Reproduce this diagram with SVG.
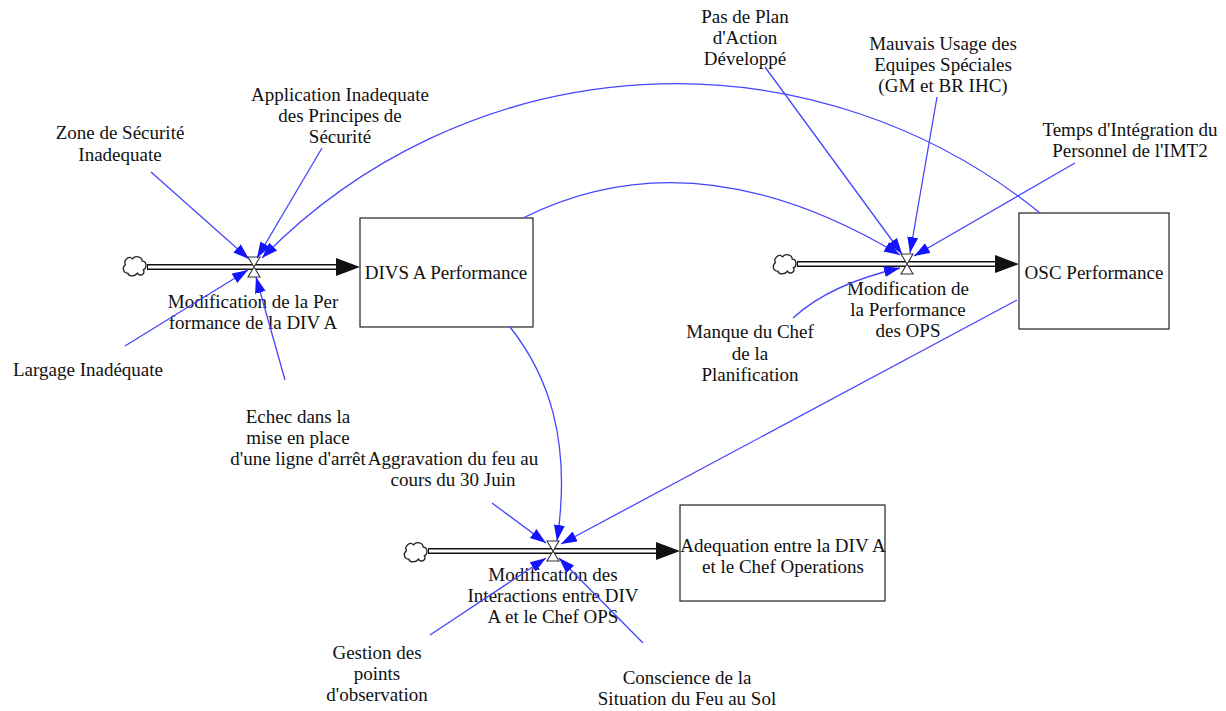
<svg xmlns="http://www.w3.org/2000/svg" width="1226" height="711" viewBox="0 0 1226 711">
<style>
text{font-family:"Liberation Serif","Times New Roman",serif;font-size:19px;fill:#111;text-anchor:middle}
.stock{fill:#fff;stroke:#222;stroke-width:1.2}
.pipeo{stroke:#111;stroke-width:6;fill:none}
.pipei{stroke:#fff;stroke-width:3;fill:none}
.valve{fill:#fff;stroke:#333;stroke-width:1.1}
.cloud{fill:#fff;stroke:#222;stroke-width:1.1}
.link{fill:none;stroke:#4646ff;stroke-width:1.3;marker-end:url(#ah)}
.head{fill:#111}
</style>
<defs>
<marker id="ah" markerUnits="userSpaceOnUse" markerWidth="17" markerHeight="12" refX="16" refY="5.5" orient="auto">
<path d="M0,0 L16,5.5 L0,11 Z" fill="#1414ff"/>
</marker>
<path id="cl" d="M-6,6 C-10,6 -11,1 -8,-1 C-10,-5 -5,-9 -2,-6 C0,-9 6,-8 6,-4 C10,-4 10,2 7,3 C9,7 4,9 2,6 C0,9 -5,9 -6,6 Z"/>
<path id="vl" d="M-6,-10 L6,-10 L0,0 Z M-6,10 L6,10 L0,0 Z"/>
</defs>
<rect width="1226" height="711" fill="#fff"/>

<g id="connectors">
<g id="pipes">
<line class="pipeo" x1="147" y1="267" x2="338" y2="267"/><line class="pipei" x1="148" y1="267" x2="339" y2="267"/>
<polygon class="head" points="336,258 360,267 336,276"/>
<line class="pipeo" x1="797" y1="264" x2="997" y2="264"/><line class="pipei" x1="798" y1="264" x2="998" y2="264"/>
<polygon class="head" points="995,255 1019,264 995,273"/>
<line class="pipeo" x1="428" y1="551" x2="658" y2="551"/><line class="pipei" x1="429" y1="551" x2="659" y2="551"/>
<polygon class="head" points="656,542 680,551 656,560"/>
</g>
</g>

<g id="cloud1"><use href="#cl" class="cloud" transform="translate(135,266) scale(1.2)"/></g>
<g id="cloud2"><use href="#cl" class="cloud" transform="translate(785,264) scale(1.2)"/></g>
<g id="cloud3"><use href="#cl" class="cloud" transform="translate(416,552) scale(1.2)"/></g>

<g id="stock-divs"><rect class="stock" x="360" y="218" width="173" height="109"/><text x="446" y="279">DIVS A Performance</text></g>
<g id="stock-osc"><rect class="stock" x="1019" y="213" width="150" height="116"/><text x="1094" y="279">OSC Performance</text></g>
<g id="stock-adeq"><rect class="stock" x="680" y="505" width="205" height="96"/><text x="783" y="552">Adequation entre la DIV A</text><text x="783" y="573">et le Chef Operations</text></g>

<g id="flow1"><use href="#vl" class="valve" transform="translate(254,267)"/><text x="253" y="308">Modification de la Per</text><text x="253" y="329">formance de la DIV A</text></g>
<g id="flow2"><use href="#vl" class="valve" transform="translate(907,264)"/><text x="908" y="295">Modification de</text><text x="908" y="316">la Performance</text><text x="908" y="337">des OPS</text></g>
<g id="flow3"><use href="#vl" class="valve" transform="translate(553,551)"/><text x="553" y="581">Modification des</text><text x="553" y="602">Interactions entre DIV</text><text x="553" y="623">A et le Chef OPS</text></g>

<g id="v-zone"><text x="120" y="139">Zone de Sécurité</text><text x="120" y="161">Inadequate</text></g>
<g id="v-appl"><text x="340" y="101">Application Inadequate</text><text x="340" y="122">des Principes de</text><text x="340" y="143">Sécurité</text></g>
<g id="v-larg"><text x="88" y="376">Largage Inadéquate</text></g>
<g id="v-echec"><text x="298" y="423">Echec dans la</text><text x="298" y="444">mise en place</text><text x="298" y="465">d'une ligne d'arrêt</text></g>
<g id="v-aggr"><text x="453" y="465">Aggravation du feu au</text><text x="453" y="486">cours du 30 Juin</text></g>
<g id="v-pas"><text x="745" y="23">Pas de Plan</text><text x="745" y="44">d'Action</text><text x="745" y="65">Développé</text></g>
<g id="v-mauv"><text x="943" y="50">Mauvais Usage des</text><text x="943" y="71">Equipes Spéciales</text><text x="943" y="92">(GM et BR IHC)</text></g>
<g id="v-temps"><text x="1130" y="136">Temps d'Intégration du</text><text x="1130" y="157">Personnel de l'IMT2</text></g>
<g id="v-manque"><text x="750" y="338">Manque du Chef</text><text x="750" y="360">de la</text><text x="750" y="381">Planification</text></g>
<g id="v-gest"><text x="377" y="659">Gestion des</text><text x="377" y="680">points</text><text x="377" y="701">d'observation</text></g>
<g id="v-consc"><text x="687" y="684">Conscience de la</text><text x="687" y="705">Situation du Feu au Sol</text></g>

<g id="links">
<line class="link" x1="151" y1="172" x2="249" y2="259"/>
<line class="link" x1="322" y1="148" x2="257" y2="258"/>
<path class="link" d="M1040,213 A578,578 0 0 0 262,258"/>
<line class="link" x1="125" y1="346" x2="248" y2="270"/>
<line class="link" x1="285" y1="380" x2="256" y2="277"/>
<path class="link" d="M523,218 Q695,132 900,255"/>
<line class="link" x1="765" y1="67" x2="902" y2="254"/>
<line class="link" x1="937" y1="97" x2="910" y2="253"/>
<line class="link" x1="1075" y1="163" x2="914" y2="256"/>
<path class="link" d="M793,318 Q830,284 900,268"/>
<line class="link" x1="492" y1="503" x2="546" y2="543"/>
<path class="link" d="M510,327 C548,375 572,440 557,541"/>
<line class="link" x1="1017" y1="300" x2="561" y2="544"/>
<line class="link" x1="430" y1="635" x2="546" y2="558"/>
<line class="link" x1="643" y1="643" x2="559" y2="558"/>
</g>
</svg>
